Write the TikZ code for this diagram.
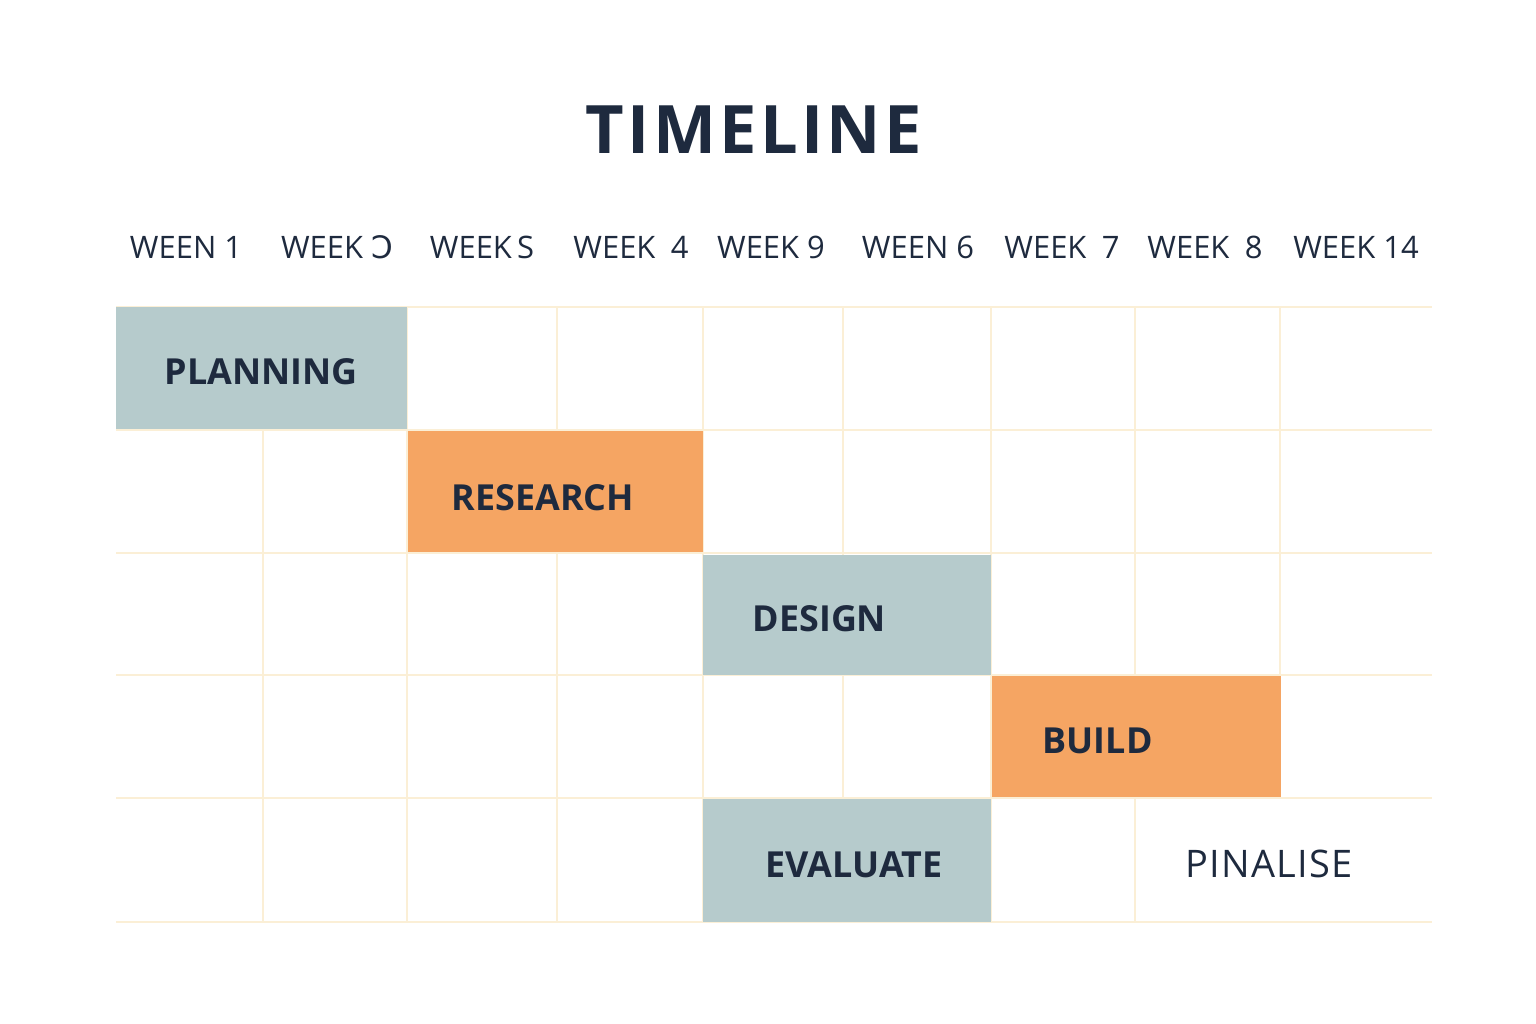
\documentclass[tikz,border=0pt]{standalone}
\usepackage{fontspec}
\setmainfont{Open Sans}
\newfontfamily\altfont{DejaVu Sans}
\usetikzlibrary{positioning}
\definecolor{navy}{HTML}{1E2A3E}
\definecolor{slate}{HTML}{B6CBCC}
\definecolor{apricot}{HTML}{F5A563}
\definecolor{cream}{HTML}{FBEFD6}

\begin{document}
\begin{tikzpicture}[
  x=0.01cm, y=-0.01cm,
  gridline/.style={draw=cream, line width=0.6pt},
  phase/.style={inner sep=0pt, outer sep=0pt, anchor=north west, minimum height=1.21cm},
  phasetext/.style={inner sep=0pt, anchor=west, yshift=-0.04cm, text=navy, font=\fontsize{10.2}{12}\selectfont\bfseries},
  weeklabel/.style={inner sep=0pt, text=navy, font=\fontsize{8.8}{11}\selectfont}
]
\useasboundingbox (0,0) rectangle (1536,1024);

% Title
\node[text=navy, font=\fontsize{19}{23}\selectfont\bfseries\addfontfeature{LetterSpace=5}] (title) at (754,130) {TIMELINE};

% Week headers
\foreach \x/\t [count=\i] in {186/WEEN 1, 337/WEEK {\altfont Ɔ}, 482/WEEK\,S, 631/WEEK\enspace4, 771/WEEK 9,
    918/WEEN 6, 1062/WEEK\enspace7, 1205/WEEK\enspace8, 1356/WEEK 14}
  \node[weeklabel] (wk\i) at (\x,247) {\t};

% Grid
\foreach \y in {307,430,553,675,798,922}
  \draw[gridline] (116,\y) -- (1432,\y);
\foreach \x in {263,407,557,703,843,991,1135}
  \draw[gridline] (\x,307) -- (\x,922);
\draw[gridline] (1280,307) -- (1280,798);

% Phases
\node[phase, fill=slate, minimum width=2.91cm, minimum height=1.22cm] (plan) at (116,307) {};
\node[phase, fill=apricot, minimum width=2.95cm] (research) at (408,431) {};
\node[phase, fill=slate, minimum width=2.88cm, minimum height=1.20cm] (design) at (703,555) {};
\node[phase, fill=apricot, minimum width=2.89cm] (build) at (992,676) {};
\node[phase, fill=slate, minimum width=2.88cm, minimum height=1.23cm] (evaluate) at (703,799) {};

% Phase labels
\node[phasetext, right=0.48cm of plan.west] (plantext) {PLANNING};
\node[phasetext, right=0.43cm of research.west, yshift=-0.02cm] (researchtext) {RESEARCH};
\node[phasetext, right=0.49cm of design.west] (designtext) {DESIGN};
\node[phasetext, right=0.50cm of build.west] (buildtext) {BUILD};
\node[phasetext, right=0.62cm of evaluate.west] (evaluatetext) {EVALUATE};
\node[text=navy, inner sep=0pt, font=\fontsize{10.8}{13}\selectfont\addfontfeature{LetterSpace=3}] (finalise) at (1269,864) {PINALISE};

\end{tikzpicture}
\end{document}
